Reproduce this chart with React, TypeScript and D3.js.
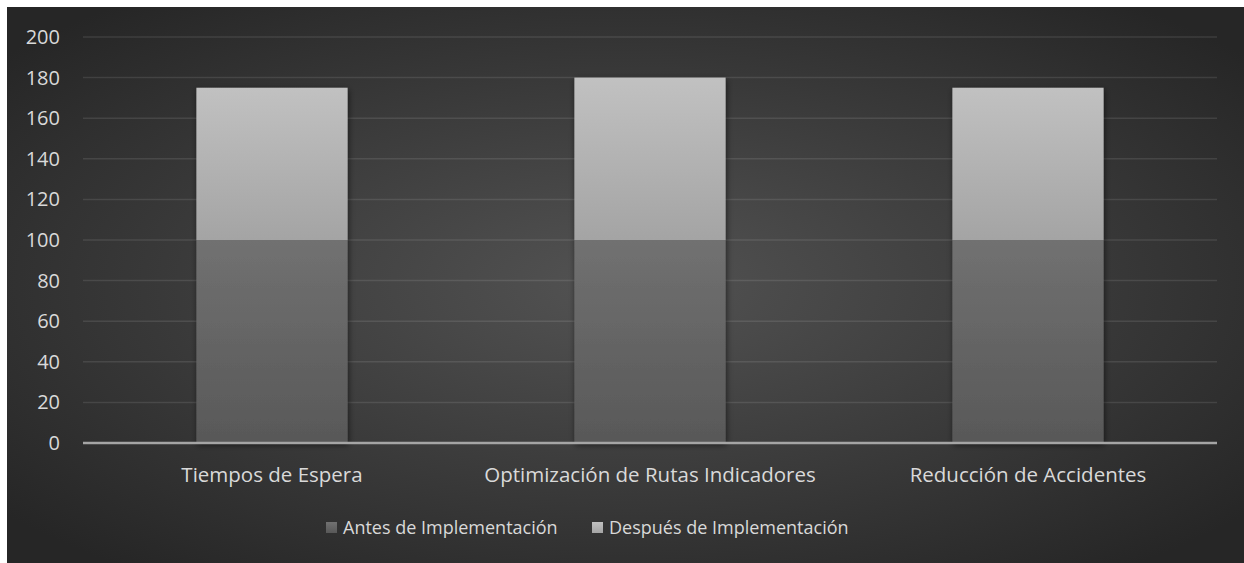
import React, { useEffect, useRef } from 'react';
import * as d3 from 'd3';

const categories = ['Tiempos de Espera', 'Optimización de Rutas Indicadores', 'Reducción de Accidentes'];
const antes = [100, 100, 100];
const despues = [75, 80, 75];
const seriesNames = ['Antes de Implementación', 'Después de Implementación'];
const yTicks = [0, 20, 40, 60, 80, 100, 120, 140, 160, 180, 200];

const WIDTH = 1237;
const HEIGHT = 556;

const App: React.FC = () => {
  const ref = useRef<SVGSVGElement | null>(null);

  useEffect(() => {
    if (!ref.current) return;
    const svg = d3.select(ref.current);
    svg.selectAll('*').remove();

    const margin = { top: 30, right: 27, bottom: 120, left: 76 };
    const innerW = WIDTH - margin.left - margin.right;
    const innerH = HEIGHT - margin.top - margin.bottom;
    const font = '"Open Sans", sans-serif';
    const textColor = '#d9d9d9';

    const defs = svg.append('defs');
    const bg = defs.append('radialGradient').attr('id', 'bg')
      .attr('cx', '50%').attr('cy', '50%').attr('r', '65%');
    bg.append('stop').attr('offset', '0%').attr('stop-color', '#535353');
    bg.append('stop').attr('offset', '100%').attr('stop-color', '#262626');

    const grads = [['#717171', '#585858'], ['#c1c1c1', '#a4a4a4']];
    grads.forEach((c, i) => {
      const lg = defs.append('linearGradient').attr('id', `g${i}`)
        .attr('x1', 0).attr('y1', 0).attr('x2', 0).attr('y2', 1);
      lg.append('stop').attr('offset', '0%').attr('stop-color', c[0]);
      lg.append('stop').attr('offset', '100%').attr('stop-color', c[1]);
    });
    const f = defs.append('filter').attr('id', 'shadow')
      .attr('x', '-20%').attr('y', '-20%').attr('width', '140%').attr('height', '140%');
    f.append('feDropShadow').attr('dx', 1).attr('dy', 2).attr('stdDeviation', 3)
      .attr('flood-color', '#000').attr('flood-opacity', 0.55);

    svg.append('rect').attr('width', WIDTH).attr('height', HEIGHT).attr('fill', 'url(#bg)');

    const g = svg.append('g').attr('transform', `translate(${margin.left},${margin.top})`);

    const x = d3.scaleBand().domain(categories).range([0, innerW]).paddingInner(0.6).paddingOuter(0.3);
    const y = d3.scaleLinear().domain([0, 200]).range([innerH, 0]);

    // gridlines
    g.selectAll('line.grid').data(yTicks.filter(t => t > 0)).enter().append('line')
      .attr('x1', 0).attr('x2', innerW)
      .attr('y1', d => y(d)).attr('y2', d => y(d))
      .attr('stroke', 'rgba(255,255,255,0.1)').attr('stroke-width', 1.5);

    // y labels
    g.selectAll('text.ytick').data(yTicks).enter().append('text')
      .attr('x', -23).attr('y', d => y(d)).attr('dy', '0.35em')
      .attr('text-anchor', 'end').attr('fill', textColor)
      .style('font-family', font).style('font-size', '20px')
      .text(d => d);

    const stack = categories.map((c, i) => [
      { key: 0, c, y0: 0, y1: antes[i] },
      { key: 1, c, y0: antes[i], y1: antes[i] + despues[i] },
    ]);

    const bars = g.append('g').attr('filter', 'url(#shadow)');
    stack.forEach(segs => {
      segs.forEach(s => {
        bars.append('rect')
          .attr('x', x(s.c)!)
          .attr('width', x.bandwidth())
          .attr('y', y(s.y1))
          .attr('height', y(s.y0) - y(s.y1))
          .attr('fill', `url(#g${s.key})`);
      });
    });

    // x axis line
    g.append('line').attr('x1', 0).attr('x2', innerW)
      .attr('y1', innerH).attr('y2', innerH)
      .attr('stroke', '#a5a5a5').attr('stroke-width', 2.5);

    // category labels
    g.selectAll('text.cat').data(categories).enter().append('text')
      .attr('x', d => x(d)! + x.bandwidth() / 2)
      .attr('y', innerH + 32).attr('dy', '0.35em')
      .attr('text-anchor', 'middle').attr('fill', textColor)
      .style('font-family', font).style('font-size', '20.5px')
      .text(d => d);

    // legend
    const legend = svg.append('g').attr('transform', `translate(0, 521)`);
    const legendX = [319, 585];
    seriesNames.forEach((name, i) => {
      legend.append('rect').attr('x', legendX[i]).attr('y', -6).attr('width', 11).attr('height', 11)
        .attr('fill', `url(#g${i})`);
      legend.append('text').attr('x', legendX[i] + 17).attr('y', 0).attr('dy', '0.35em')
        .attr('fill', textColor)
        .style('font-family', font).style('font-size', '18px')
        .text(name);
    });
  }, []);

  return (
    <div style={{ position: 'absolute', left: 7, top: 7 }}>
      <svg ref={ref} width={WIDTH} height={HEIGHT} style={{ display: 'block' }} />
    </div>
  );
};

export default App;
